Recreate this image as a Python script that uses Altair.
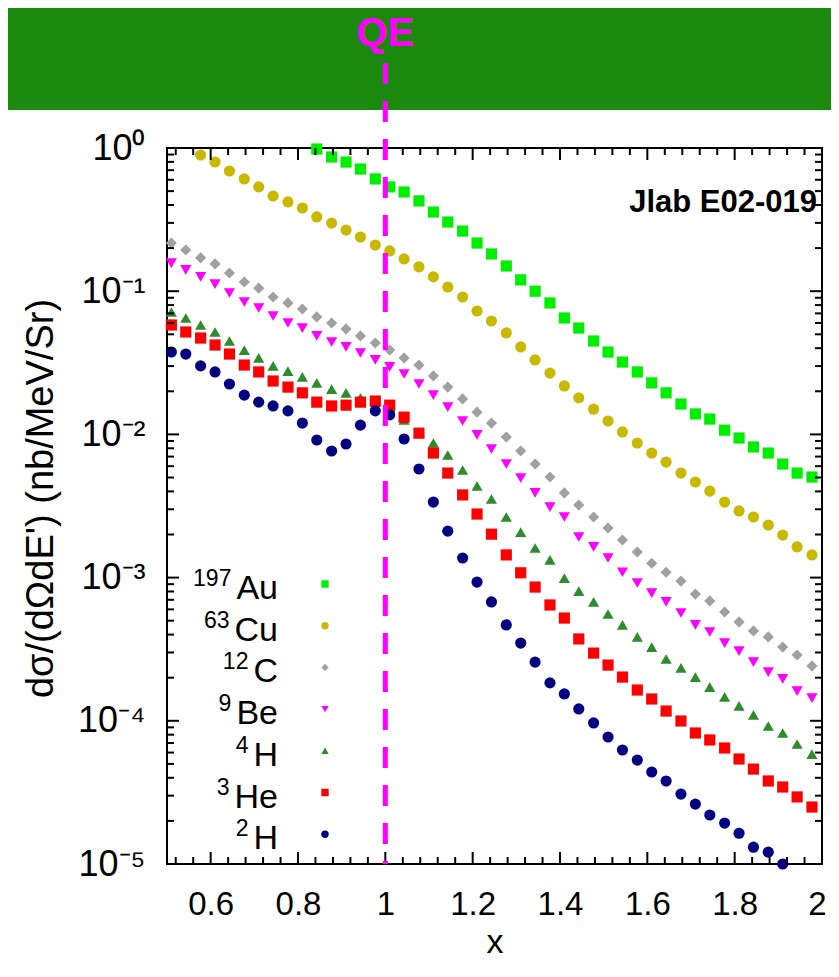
import altair as alt
import pandas as pd

FONT = "Liberation Sans"

# ---- data ----
X_GRID = [0.510, 0.543, 0.577, 0.610, 0.643, 0.677, 0.710, 0.743, 0.777, 0.810,
          0.843, 0.877, 0.910, 0.943, 0.977, 1.010, 1.043, 1.077, 1.110, 1.143,
          1.177, 1.210, 1.243, 1.277, 1.310, 1.343, 1.377, 1.410, 1.443, 1.477,
          1.510, 1.543, 1.577, 1.610, 1.643, 1.677, 1.710, 1.743, 1.777, 1.810,
          1.843, 1.877, 1.910, 1.943, 1.977]

AU_START = 10
AU = [0.984, 0.865, 0.798, 0.713, 0.608, 0.535, 0.493, 0.427, 0.357, 0.304,
      0.263, 0.217, 0.182, 0.150, 0.120, 0.100, 0.0828, 0.0650, 0.0553, 0.0449,
      0.0376, 0.0320, 0.0273, 0.0229, 0.0195, 0.0163, 0.0139, 0.0128, 0.0107, 0.00944,
      0.00817, 0.00741, 0.00621, 0.00537, 0.00504]

CU_START = 2
CU = [0.894, 0.798, 0.691, 0.608, 0.535, 0.462, 0.420, 0.381, 0.330, 0.299,
      0.267, 0.239, 0.210, 0.191, 0.168, 0.148, 0.126, 0.107, 0.0911, 0.0727,
      0.0619, 0.0511, 0.0408, 0.0331, 0.0268, 0.0218, 0.0180, 0.0150, 0.0124, 0.0104,
      0.00871, 0.00741, 0.00641, 0.00537, 0.00465, 0.00402, 0.00337, 0.00292, 0.00265, 0.00233,
      0.00198, 0.00164, 0.00144]

C_START = 0
C12 = [0.217, 0.194, 0.171, 0.155, 0.134, 0.116, 0.105, 0.0911, 0.0828, 0.0751,
       0.0661, 0.0600, 0.0545, 0.0487, 0.0435, 0.0388, 0.0342, 0.0305, 0.0256, 0.0214,
       0.0177, 0.0143, 0.0120, 0.00959, 0.00766, 0.00621, 0.00504, 0.00390, 0.00321, 0.00265,
       0.00222, 0.00183, 0.00151, 0.00126, 0.00109, 0.000946, 0.000767, 0.000687, 0.000575, 0.000490,
       0.000424, 0.000385, 0.000327, 0.000288, 0.000241]

BE_START = 0
BE = [0.157, 0.141, 0.126, 0.112, 0.0971, 0.0841, 0.0763, 0.0671, 0.0600, 0.0553,
      0.0487, 0.0442, 0.0408, 0.0370, 0.0331, 0.0296, 0.0264, 0.0225, 0.0188, 0.0155,
      0.0124, 0.00991, 0.00791, 0.00621, 0.00496, 0.00390, 0.00311, 0.00265, 0.00192, 0.00164,
      0.00137, 0.00109, 0.000917, 0.000780, 0.000676, 0.000566, 0.000467, 0.000417, 0.000349, 0.000307,
      0.000257, 0.000219, 0.000196, 0.000161, 0.000144]

HE4_START = 0
HE4 = [0.0716, 0.0650, 0.0581, 0.0519, 0.0449, 0.0388, 0.0342, 0.0301, 0.0277, 0.0252,
       0.0229, 0.0207, 0.0195, 0.0180, 0.0168, 0.0155, 0.0126, 0.0104, 0.00871, 0.00718,
       0.00564, 0.00436, 0.00354, 0.00265, 0.00208, 0.00161, 0.00133, 0.000993, 0.000805, 0.000676,
       0.000557, 0.000467, 0.000385, 0.000327, 0.000270, 0.000234, 0.000202, 0.000172, 0.000147, 0.000127,
       0.000110, 0.0000920, 0.0000822, 0.0000689, 0.0000586]

HE3_START = 0
HE3 = [0.0581, 0.0519, 0.0471, 0.0421, 0.0364, 0.0305, 0.0273, 0.0236, 0.0214, 0.0195,
       0.0168, 0.0158, 0.0160, 0.0168, 0.0171, 0.0160, 0.0132, 0.0102, 0.00741, 0.00537,
       0.00378, 0.00278, 0.00201, 0.00144, 0.00108, 0.000859, 0.000644, 0.000522, 0.000373, 0.000297,
       0.000245, 0.000202, 0.000164, 0.000142, 0.000117, 0.0000997, 0.0000822, 0.0000735, 0.0000646, 0.0000541,
       0.0000460, 0.0000380, 0.0000345, 0.0000294, 0.0000250]

H2_START = 0
H2 = [0.0376, 0.0364, 0.0301, 0.0273, 0.0225, 0.0188, 0.0168, 0.0158, 0.0146, 0.0120,
      0.00914, 0.00766, 0.00857, 0.0116, 0.0146, 0.0137, 0.00929, 0.00573, 0.00337, 0.00211,
      0.00137, 0.000931, 0.000676, 0.000467, 0.000349, 0.000257, 0.000184, 0.000154, 0.000121, 0.0000966,
      0.0000771, 0.0000625, 0.0000532, 0.0000439, 0.0000380, 0.0000308, 0.0000262, 0.0000220, 0.0000193, 0.0000164,
      0.0000131, 0.0000121, 0.0000100]

NAMES = ["Au", "Cu", "C", "Be", "4H", "3He", "2H"]
SUPS = ["197", "63", "12", "9", "4", "3", "2"]
ELEMS = ["Au", "Cu", "C", "Be", "H", "He", "H"]
COLORS = ["#00ee00", "#c8b800", "#a0a0a0", "#ff00ff", "#2e8b2e", "#ff0000", "#000080"]
SHAPES = ["square", "circle", "diamond", "triangle-down", "triangle-up", "square", "circle"]

SERIES = [("Au", AU_START, AU), ("Cu", CU_START, CU), ("C", C_START, C12),
          ("Be", BE_START, BE), ("4H", HE4_START, HE4), ("3He", HE3_START, HE3),
          ("2H", H2_START, H2)]

X_LABELS = [0.6, 0.8, 1.0, 1.2, 1.4, 1.6, 1.8, 2.0]
X_MAJOR = [0.6, 0.8, 1.0, 1.2, 1.4, 1.6, 1.8]
X_MINOR = [0.52, 0.56, 0.64, 0.68, 0.72, 0.76, 0.84, 0.88, 0.92, 0.96,
           1.04, 1.08, 1.12, 1.16, 1.24, 1.28, 1.32, 1.36, 1.44, 1.48, 1.52, 1.56,
           1.64, 1.68, 1.72, 1.76, 1.84, 1.88, 1.92, 1.96]
Y_LABELS = [1e-5, 1e-4, 1e-3, 1e-2, 1e-1, 1.0]
Y_MAJOR = [1e-4, 1e-3, 1e-2, 1e-1]
Y_MINOR = [m * 10.0 ** e for e in range(-5, 0) for m in range(2, 10)]

rows = []
for name, start, vals in SERIES:
    for i, v in enumerate(vals):
        rows.append({"x": X_GRID[start + i], "y": v, "series": name})
df = pd.DataFrame(rows)

# ---- layout ----
W, H = 655, 716
PAD = {"left": 159, "top": 140, "right": 9, "bottom": 98}

xs = alt.Scale(domain=[0.5, 2.0], nice=False, zero=False)
ysc = alt.Scale(type="log", domain=[1e-5, 1.0], nice=False)
color_scale = alt.Scale(domain=NAMES, range=COLORS)
shape_scale = alt.Scale(domain=NAMES, range=SHAPES)

sup_expr = ("'10' + ['\u2070','\u207b\u00b9','\u207b\u00b2','\u207b\u00b3','\u207b\u2074','\u207b\u2075']"
            "[-round(log(datum.value)/LN10)]")

X_AXIS = alt.Axis(
    values=X_LABELS, format="~g", ticks=False, domain=False, grid=False,
    labelFontSize=33, labelColor="black", labelPadding=24, labelFlush=False,
    labelOffset={"condition": {"test": "datum.value >= 1.99", "value": -5}, "value": 0},
    labelOverlap=False, title="x", titleFontSize=34, titleFontWeight="normal",
    titleColor="black", titleY=88, titleBaseline="alphabetic")
Y_AXIS = alt.Axis(
    values=Y_LABELS, labelExpr=sup_expr, ticks=False, domain=False, grid=False,
    labelFontSize=36, labelColor="black", labelPadding=22, labelOverlap=False,
    title="d\u03c3/(d\u03a9dE') (nb/MeV/Sr)", titleFontSize=38,
    titleFontWeight="normal", titleColor="black", titleX=-126, titleY=350,
    titleAngle=270, titleAlign="center", titleBaseline="middle")


def xenc(field):
    return alt.X(field, scale=xs, axis=X_AXIS)


def yenc(field):
    return alt.Y(field, scale=ysc, axis=Y_AXIS)


banner = alt.Chart(pd.DataFrame({"a": [0]})).mark_rect(color="#1b890e").encode(
    x=alt.value(-PAD["left"]), x2=alt.value(W + PAD["right"]),
    y=alt.value(-PAD["top"]), y2=alt.value(-38))

points = alt.Chart(df).mark_point(filled=True, size=125, opacity=1).encode(
    x=xenc("x:Q"),
    y=yenc("y:Q"),
    color=alt.Color("series:N", scale=color_scale, legend=None),
    shape=alt.Shape("series:N", scale=shape_scale, legend=None),
)


def xticks(vals, y0, y1):
    return alt.Chart(pd.DataFrame({"x": vals})).mark_rule(color="black", strokeWidth=2).encode(
        x=xenc("x:Q"), y=alt.value(y0), y2=alt.value(y1))


def yticks(vals, x0, x1):
    return alt.Chart(pd.DataFrame({"y": vals})).mark_rule(color="black", strokeWidth=2).encode(
        y=yenc("y:Q"), x=alt.value(x0), x2=alt.value(x1))


MAJ, MIN = 12, 7
ticks = [xticks(X_MAJOR, H, H - MAJ), xticks(X_MAJOR, 0, MAJ),
         xticks(X_MINOR, H, H - MIN), xticks(X_MINOR, 0, MIN),
         yticks(Y_MAJOR, 0, MAJ), yticks(Y_MAJOR, W, W - MAJ),
         yticks(Y_MINOR, 0, MIN), yticks(Y_MINOR, W, W - MIN)]

qe = pd.DataFrame({"x": [1.0], "label": ["QE"]})
qe_line = alt.Chart(qe).mark_rule(color="#ff00ff", strokeWidth=5, strokeDash=[21, 17]).encode(
    x=xenc("x:Q"), y=alt.value(-85), y2=alt.value(H))
qe_text = alt.Chart(qe).mark_text(color="#ff00ff", fontSize=40, fontWeight="bold", font=FONT,
                                  align="center", baseline="alphabetic").encode(
    x=xenc("x:Q"), y=alt.value(-102), text="label:N")

jlab = alt.Chart(pd.DataFrame({"t": ["Jlab E02-019"]})).mark_text(
    fontSize=31, fontWeight="bold", font=FONT, align="right", baseline="alphabetic",
    color="black").encode(x=alt.value(650), y=alt.value(64), text="t:N")

# legend table (guide layout)
CHAR_W = {"A": 0.667, "u": 0.556, "C": 0.722, "B": 0.667, "e": 0.556, "H": 0.722}
ELEM_FS, SUP_FS = 34, 23
LEG_TOP, LEG_STEP = 436, 41.7
TEXT_RIGHT, MARK_X = 111, 158
leg = pd.DataFrame({"series": NAMES, "sup": SUPS, "elem": ELEMS})
leg["py"] = [LEG_TOP + i * LEG_STEP for i in range(len(NAMES))]
leg["ey"] = leg["py"] + 15
leg["sy"] = leg["py"] + 2
leg["sx"] = [TEXT_RIGHT - sum(CHAR_W[c] for c in e) * ELEM_FS - 5 for e in ELEMS]

leg_marks = alt.Chart(leg).mark_point(filled=True, size=55, opacity=1).encode(
    x=alt.value(MARK_X), y=alt.Y("py:Q", scale=None),
    color=alt.Color("series:N", scale=color_scale, legend=None),
    shape=alt.Shape("series:N", scale=shape_scale, legend=None))
leg_elem = alt.Chart(leg).mark_text(fontSize=ELEM_FS, font=FONT, align="right",
                                    baseline="alphabetic", color="black").encode(
    x=alt.value(TEXT_RIGHT), y=alt.Y("ey:Q", scale=None), text="elem:N")
leg_sup = alt.Chart(leg).mark_text(fontSize=SUP_FS, font=FONT, align="right",
                                   baseline="alphabetic", color="black").encode(
    x=alt.X("sx:Q", scale=None), y=alt.Y("sy:Q", scale=None), text="sup:N")

chart = alt.layer(banner, points, *ticks, qe_line, qe_text, jlab, leg_marks, leg_elem, leg_sup).properties(
    width=W, height=H, padding=PAD, autosize=alt.AutoSizeParams(type="none"),
    background="white"
).configure_view(stroke="black", strokeWidth=2).configure_axis(
    labelFont=FONT, titleFont=FONT).configure_text(font=FONT)

chart.save("out.html", embed_options={"renderer": "svg", "actions": False})
